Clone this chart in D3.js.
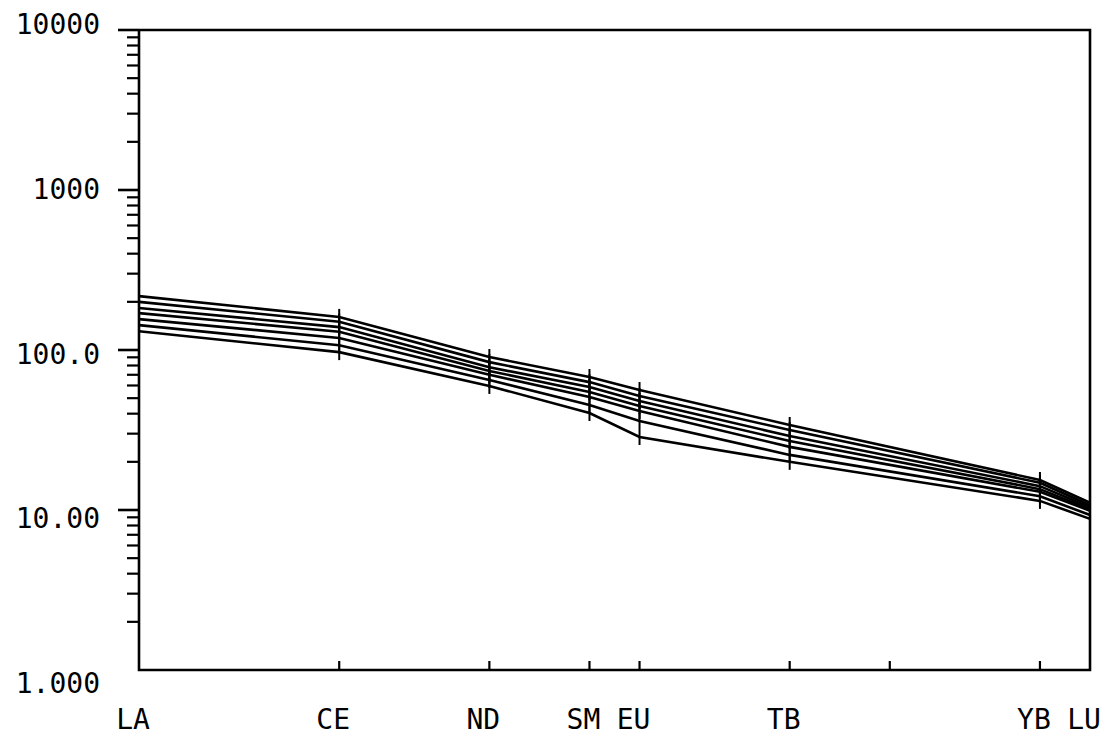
<!DOCTYPE html>
<meta charset="utf-8">
<script src="https://d3js.org/d3.v7.min.js"></script>
<style>
  body { margin: 0; background: #fff; }
  text { font-family: "DejaVu Sans Mono", monospace; fill: #000; }
</style>
<div id="chart"></div>
<script>

  // REE elements and their spacing along the x axis
  var elements = ["LA", "CE", "ND", "SM", "EU", "TB", "YB", "LU"];
  var elementPos = [0, 4, 7, 9, 10, 13, 18, 19];
  var tickPos = [4, 7, 9, 10, 13, 15, 18];

  // y axis labels
  var yTickValues = [1, 10, 100, 1000, 10000];
  var yTickLabels = ["1.000", "10.00", "100.0", "1000", "10000"];

  // normalised values, one array per sample (LA CE ND SM EU TB YB LU)
  var s1 = [217, 161, 90.4, 67.8, 56.2, 34.0, 15.4, 11.1];
  var s2 = [200, 150, 84.0, 63.0, 51.6, 31.6, 14.8, 10.7];
  var s3 = [183, 139, 78.0, 58.7, 48.0, 29.0, 14.1, 10.4];
  var s4 = [170, 130, 74.0, 54.6, 44.7, 27.0, 13.5, 10.1];
  var s5 = [156, 119, 70.0, 50.8, 41.6, 24.8, 13.0, 9.9];
  var s6 = [143, 107, 65.0, 45.3, 36.0, 22.1, 12.2, 9.3];
  var s7 = [131, 97, 59.6, 40.4, 28.6, 20.0, 11.4, 8.8];
  var samples = [s1, s2, s3, s4, s5, s6, s7];

  var W = 1108, H = 742;
  var pLeft = 139, pRight = 1090, pTop = 30, pBottom = 670;

  var svg = d3.select("#chart").append("svg")
    .attr("width", W)
    .attr("height", H);

  var x = d3.scaleLinear().domain([0, 19]).range([pLeft, pRight]);
  var y = d3.scaleLog().domain([1, 10000]).range([pBottom, pTop]);
  // label placement drifts a little from the ticks on the plotter output
  var yLab = d3.scaleLog().domain([1, 10000]).range([683, 24]);

  var stroke = 2.6;

  // frame
  svg.append("path")
    .attr("d", "M" + pLeft + "," + pTop + "V" + pBottom + "H" + pRight + "V" + pTop + "H" + pLeft)
    .attr("fill", "none")
    .attr("stroke", "#000")
    .attr("stroke-width", stroke);

  // y axis ticks: major decades and minor 2..9
  var minor = [];
  for (var d = 1; d < 10000; d *= 10) {
    for (var k = 2; k <= 9; k++) minor.push(d * k);
  }
  svg.append("g").selectAll("line")
    .data(minor)
    .enter().append("line")
    .attr("x1", pLeft - 12).attr("x2", pLeft)
    .attr("y1", function (d) { return y(d); })
    .attr("y2", function (d) { return y(d); })
    .attr("stroke", "#000").attr("stroke-width", 2.2);

  svg.append("g").selectAll("line")
    .data(yTickValues.slice(1))
    .enter().append("line")
    .attr("x1", pLeft - 21).attr("x2", pLeft)
    .attr("y1", function (d) { return y(d); })
    .attr("y2", function (d) { return y(d); })
    .attr("stroke", "#000").attr("stroke-width", 2.6);

  svg.append("g").selectAll("text")
    .data(yTickValues)
    .enter().append("text")
    .attr("x", 100)
    .attr("y", function (d) { return yLab(d); })
    .attr("dy", "0.36em")
    .attr("text-anchor", "end")
    .style("font-size", "28px")
    .text(function (d, i) { return yTickLabels[i]; });

  // x axis ticks (inward)
  svg.append("g").selectAll("line")
    .data(tickPos)
    .enter().append("line")
    .attr("x1", function (d) { return x(d); })
    .attr("x2", function (d) { return x(d); })
    .attr("y1", pBottom)
    .attr("y2", pBottom - 9)
    .attr("stroke", "#000").attr("stroke-width", 2.2);

  svg.append("g").selectAll("text")
    .data(elements)
    .enter().append("text")
    .attr("x", function (d, i) { return x(elementPos[i]) - 6; })
    .attr("y", 719)
    .attr("dy", "0.36em")
    .attr("text-anchor", "middle")
    .style("font-size", "28px")
    .text(function (d) { return d; });

  // sample lines
  var line = d3.line()
    .x(function (d, i) { return x(elementPos[i]); })
    .y(function (d) { return y(d); });

  svg.append("g").selectAll("path")
    .data(samples)
    .enter().append("path")
    .attr("d", line)
    .attr("fill", "none")
    .attr("stroke", "#000")
    .attr("stroke-width", stroke);

  // vertical markers at the data points
  samples.forEach(function (s) {
    svg.append("g").selectAll("line")
      .data(s)
      .enter().append("line")
      .attr("x1", function (d, i) { return x(elementPos[i]); })
      .attr("x2", function (d, i) { return x(elementPos[i]); })
      .attr("y1", function (d) { return y(d) - 8; })
      .attr("y2", function (d) { return y(d) + 8; })
      .attr("stroke", "#000")
      .attr("stroke-width", 2);
  });

</script>
